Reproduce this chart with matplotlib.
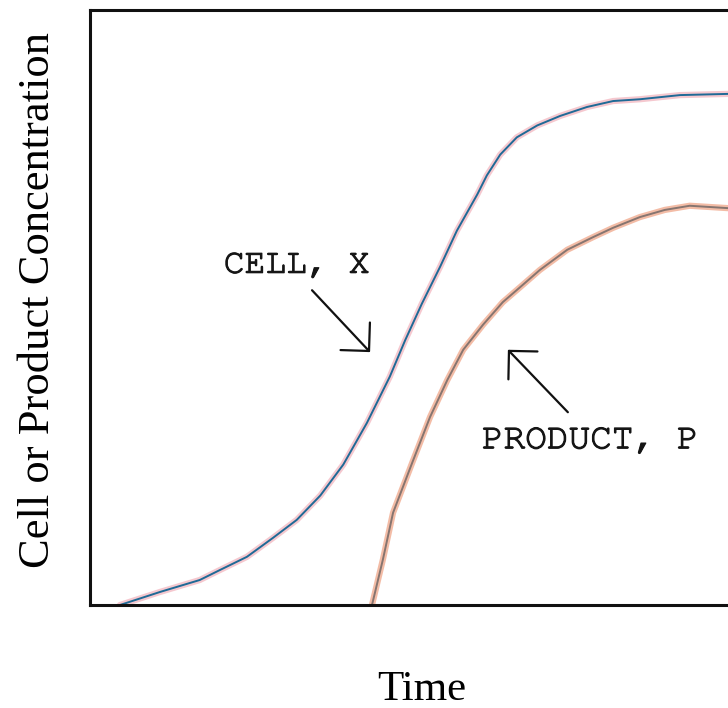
import matplotlib.pyplot as plt
import matplotlib.patheffects as pe

# cell growth curve (time, concentration), arbitrary units
cell_t = [4.7, 11.0, 17.2, 20.4, 24.6, 28.7, 32.4, 36.1, 39.7, 43.4, 47.0,
          49.4, 52.0, 54.9, 57.5, 60.7, 62.2, 64.3, 66.9, 70.1, 73.7, 77.9,
          82.0, 86.2, 92.5, 100]
cell_c = [0, 2.2, 4.2, 5.9, 8.1, 11.3, 14.3, 18.4, 23.6, 30.6, 38.4,
          44.5, 50.6, 56.9, 62.9, 69.0, 72.2, 75.7, 78.6, 80.6, 82.2, 83.7,
          84.7, 85.0, 85.7, 85.9]

# product formation curve
prod_t = [44.2, 45.9, 47.5, 50.5, 53.3, 56.0, 58.5, 61.6, 64.7, 67.4, 70.5,
          74.8, 78.8, 82.0, 86.2, 90.1, 94.0, 100]
prod_c = [0, 7.6, 15.5, 23.9, 31.6, 37.8, 42.9, 47.1, 50.9, 53.4, 56.3,
          59.7, 61.8, 63.4, 65.2, 66.4, 67.1, 66.7]

fig = plt.figure(figsize=(7.28, 7.08), dpi=100)
ax = fig.add_axes([90 / 728, 103 / 708, 638 / 728, 595 / 708])

# faint glow under each line, like the scanned original
ax.plot(cell_t, cell_c, color='#f5c8cf', lw=4.5, solid_capstyle='round')
ax.plot(cell_t, cell_c, color='#1f6a96', lw=1.4)
ax.plot(prod_t, prod_c, color='#f3bca6', lw=4.5, solid_capstyle='round')
ax.plot(prod_t, prod_c, color='#867570', lw=1.4)

ax.set_xlim(0, 100)
ax.set_ylim(0, 100)
ax.set_xticks([])
ax.set_yticks([])
ax.spines['right'].set_visible(False)
for s in ['left', 'top', 'bottom']:
    ax.spines[s].set_linewidth(2.2)
    ax.spines[s].set_color('#111111')

mono = ['Nimbus Mono PS', 'FreeMono', 'Courier New', 'Courier', 'Liberation Serif']
thicken = [pe.withStroke(linewidth=0.8, foreground='#151515')]
ax.text(32.4, 57.1, 'CELL, X', ha='center', va='center', fontsize=25,
        family=mono, color='#151515', path_effects=thicken)
ax.text(78.4, 27.6, 'PRODUCT, P', ha='center', va='center', fontsize=26,
        family=mono, color='#151515', path_effects=thicken)

arrow = dict(arrowstyle='->,head_length=0.5,head_width=0.5', lw=1.6,
             color='#111111', mutation_scale=29, shrinkA=0, shrinkB=0)
ax.annotate('', xy=(43.9, 42.5), xytext=(34.8, 52.9), arrowprops=arrow)
ax.annotate('', xy=(65.5, 42.9), xytext=(74.9, 32.4), arrowprops=arrow)

serif = 'Liberation Serif'
fig.text(38 / 728, 1 - 300 / 708, 'Cell or Product Concentration',
         rotation=90, ha='center', va='center', fontsize=32, family=serif)
fig.text(422 / 728, 1 - 690 / 708, 'Time', ha='center', va='center',
         fontsize=31, family=serif)

fig.savefig('out.png', dpi=100)
